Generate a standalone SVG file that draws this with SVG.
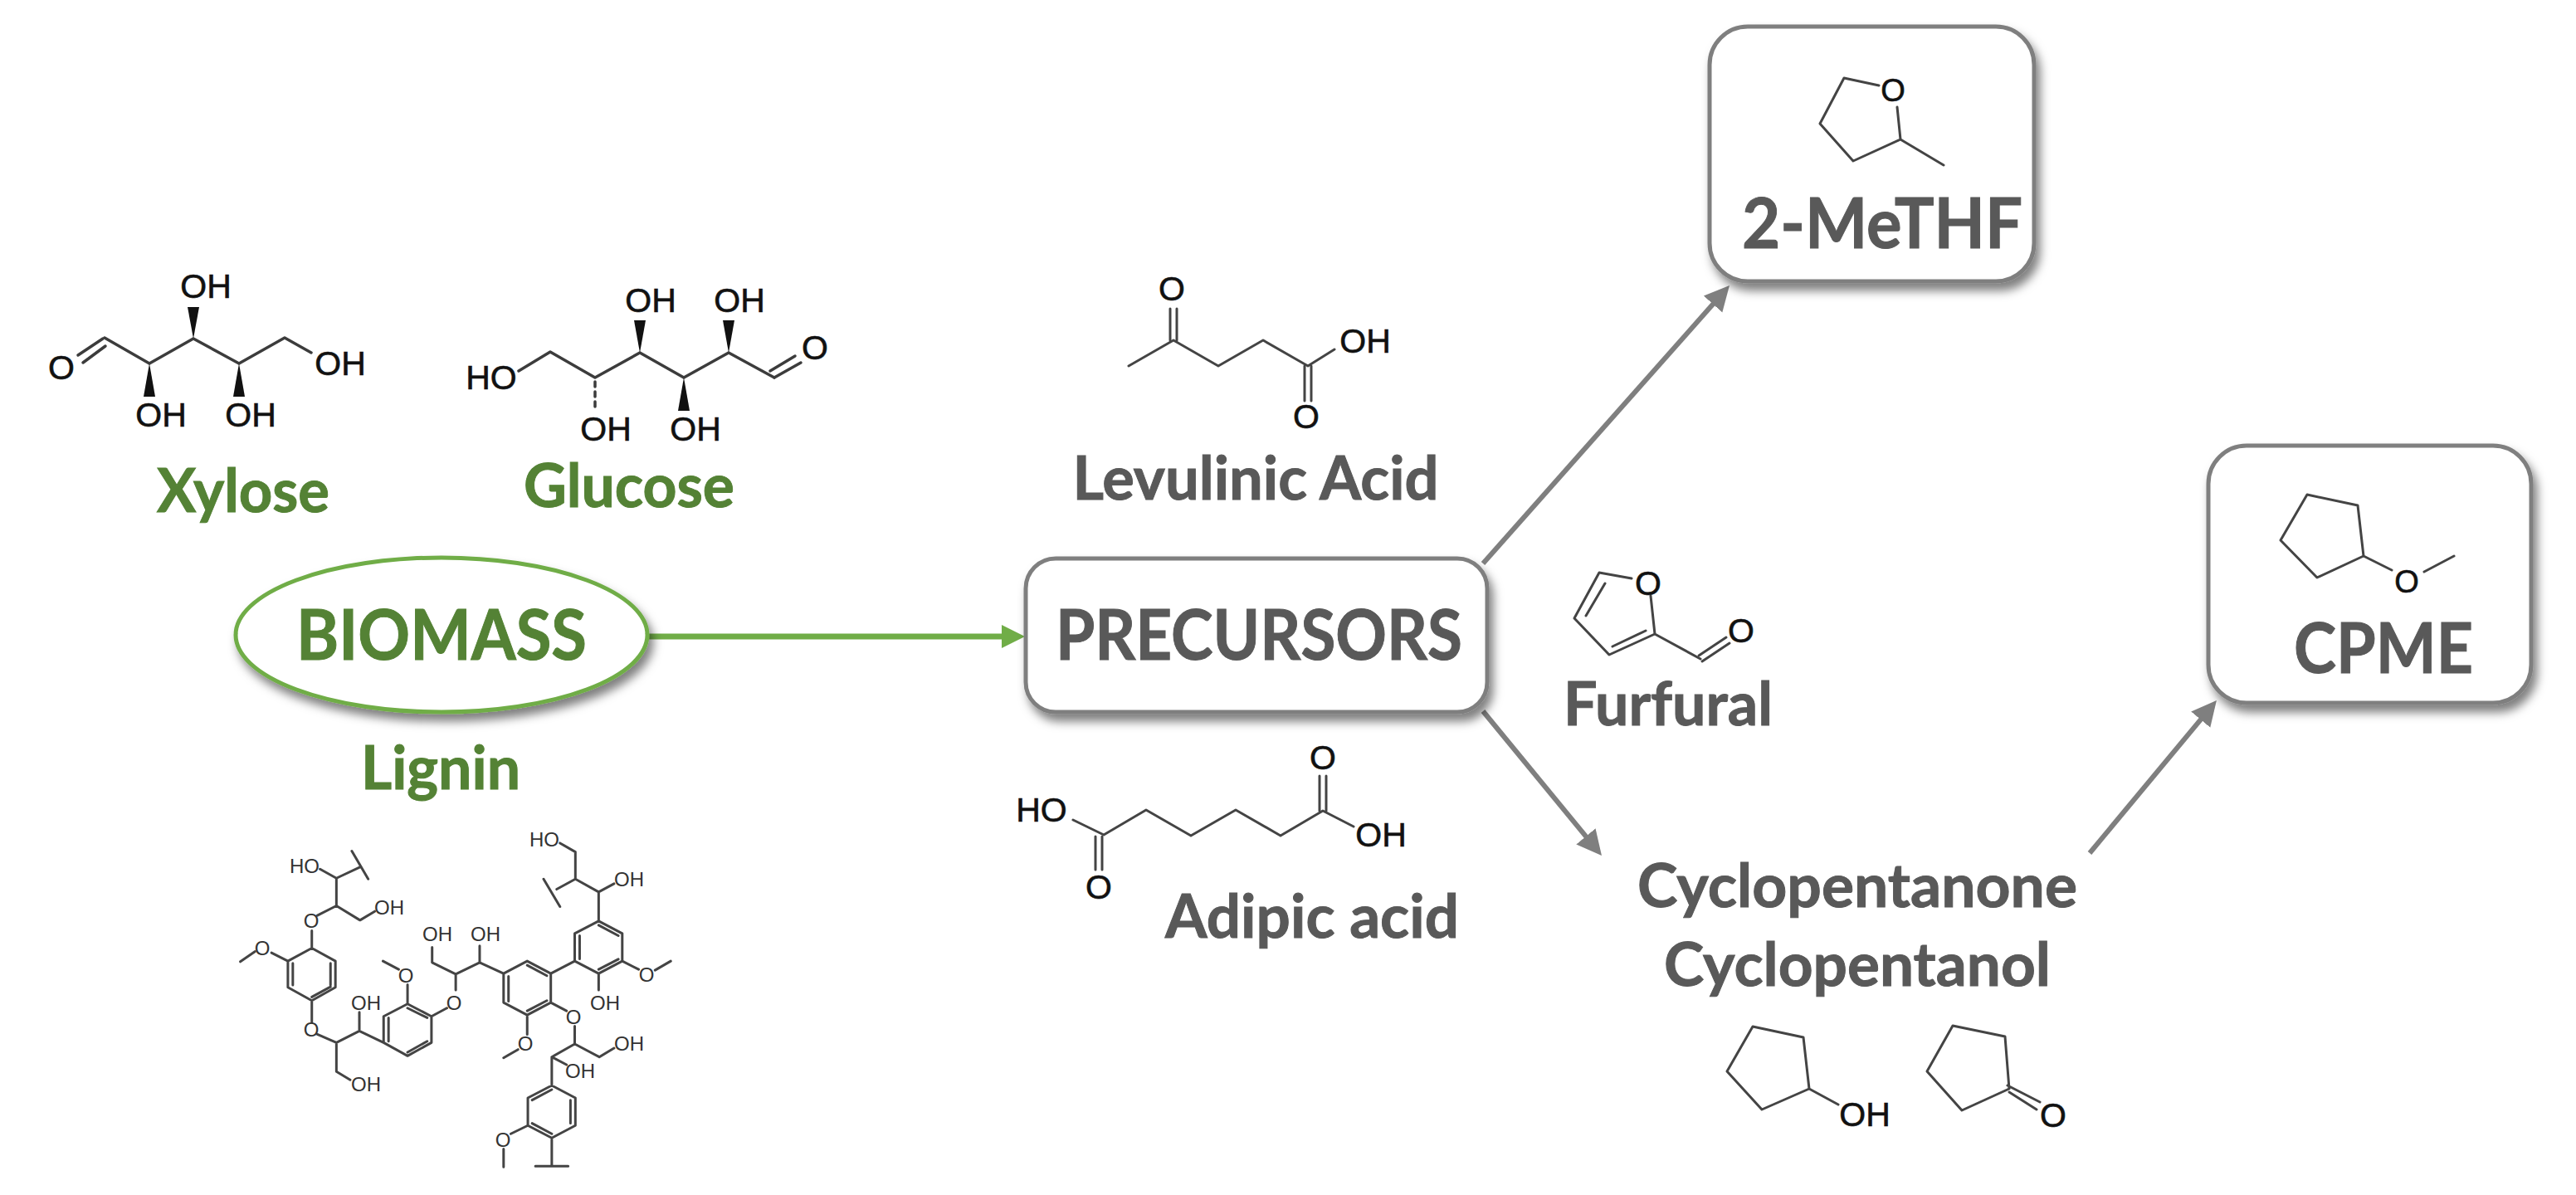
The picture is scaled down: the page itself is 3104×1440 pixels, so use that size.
<svg xmlns="http://www.w3.org/2000/svg" width="3104" height="1440" viewBox="0 0 3104 1440">
<style>
.b{fill:none;stroke:#3c3c3c;stroke-width:3.5;stroke-linejoin:round;stroke-linecap:round}
.t{fill:none;stroke:#444;stroke-width:3;stroke-linejoin:round;stroke-linecap:round}
.lg{fill:none;stroke:#444;stroke-width:3;stroke-linejoin:round;stroke-linecap:round;vector-effect:non-scaling-stroke}
.a{font-family:"Liberation Sans",Arial,sans-serif;font-size:41px;fill:#111;text-anchor:middle;stroke:#111;stroke-width:.6}
.a2{font-family:"Liberation Sans",Arial,sans-serif;font-size:24px;fill:#333;text-anchor:middle}
.g{font-family:Lato,"Liberation Sans",sans-serif;font-weight:700;fill:#548235;stroke:#548235;stroke-width:1;text-anchor:middle}
.k{font-family:Lato,"Liberation Sans",sans-serif;font-weight:700;fill:#595959;stroke:#595959;stroke-width:1;text-anchor:middle}
.s{font-size:73px}.h{font-size:84px}
.box{fill:#fff;stroke:#7f7f7f;stroke-width:5;filter:url(#sh)}
.con{fill:none;stroke:#7f7f7f;stroke-width:6}
.cong{fill:none;stroke:#70ad47;stroke-width:7}
</style>
<defs>
<filter id="sh" x="-20%" y="-20%" width="140%" height="140%"><feDropShadow dx="5" dy="9" stdDeviation="6" flood-color="#000" flood-opacity=".5"/></filter>
<marker id="ag" markerUnits="userSpaceOnUse" markerWidth="32" markerHeight="34" refX="2" refY="17" orient="auto"><path d="M0 2L30 17L0 32Z" fill="#7f7f7f"/></marker>
<marker id="agr" markerUnits="userSpaceOnUse" markerWidth="32" markerHeight="34" refX="2" refY="17" orient="auto"><path d="M0 3L28 17L0 31Z" fill="#70ad47"/></marker>
</defs>
<rect width="3104" height="1440" fill="#fff"/>

<g id="xylose">
<path class="b" d="M126 407L180 438L233 408L288 438L343 407L375 425"/>
<path class="b" d="M124 408L94 428M127 417L100 437"/>
<polygon points="180,438 173,478 187,478" fill="#111"/>
<polygon points="233,408 226,370 240,370" fill="#111"/>
<polygon points="288,438 281,478 295,478" fill="#111"/>
<text class="a" x="74" y="457">O</text><text class="a" x="248" y="359">OH</text><text class="a" x="410" y="452">OH</text><text class="a" x="194" y="514">OH</text><text class="a" x="302" y="514">OH</text>
<text class="g s" x="293" y="617" textLength="208" lengthAdjust="spacingAndGlyphs">Xylose</text>
</g>

<g id="glucose">
<path class="b" d="M625 447L663 424L717 455L771 425L824 455L878 425L933 455"/>
<path class="b" d="M933 455L965 437M928 447L958 429"/>
<path class="b" d="M717 460V466M717 472V478M717 484V490"/>
<polygon points="771,425 764,386 778,386" fill="#111"/>
<polygon points="878,425 871,386 885,386" fill="#111"/>
<polygon points="824,455 817,495 831,495" fill="#111"/>
<text class="a" x="592" y="469">HO</text><text class="a" x="982" y="433">O</text><text class="a" x="784" y="376">OH</text><text class="a" x="891" y="376">OH</text><text class="a" x="730" y="531">OH</text><text class="a" x="838" y="531">OH</text>
<text class="g s" x="758" y="611" textLength="254" lengthAdjust="spacingAndGlyphs">Glucose</text>
</g>

<g id="lignin">
<g transform="translate(260 960) scale(.395 .333)">
<path class="lg" d="M318 262L368 295L440 255M415 197L465 298M368 295V395L440 447L485 415M368 395L310 430M293 485V548M293 548L365 595V690L293 738L220 690V595ZM350 603V682M235 603V682M293 725L350 688M220 595L170 565M120 560L75 597M293 738V815M310 860L368 890L438 848V780M368 890V995L410 1025M438 848L512 890M512 890V795L585 750L658 795V890L585 938ZM527 800V885M585 765L645 800M585 925L645 885M585 750V680M558 625L510 595M658 795L705 765M732 700V642L660 600V545M732 642L805 600V540M805 600L878 640M878 640L950 595L1022 640V745L950 790L878 745ZM893 650V740M950 610L1010 648M950 775L1010 738M950 790V860M922 915L878 945M1022 745L1070 775M1095 830V895L1170 942L1215 910M1095 895L1025 942L1070 970M1025 942V1045M1025 1045L1097 1090V1190L1025 1235L952 1190V1090ZM1082 1098V1182M1025 1060L965 1098M1025 1220L965 1182M952 1190L900 1220M878 1275V1340M1025 1235V1337M975 1337H1075M1022 640L1095 595M1095 595V495L1168 450L1240 495V595L1168 640ZM1110 503V587M1168 465L1228 503M1168 625L1228 588M1240 595L1290 625M1340 628L1388 595M1168 640V700M1168 450V345L1215 315M1168 345L1097 298L1040 335M1000 298L1050 398M1097 298V200L1050 168"/>
</g>
<text class="a2" x="367" y="1052">HO</text><text class="a2" x="469" y="1102">OH</text><text class="a2" x="375" y="1118">O</text><text class="a2" x="316" y="1151">O</text><text class="a2" x="375" y="1249">O</text><text class="a2" x="441" y="1217">OH</text><text class="a2" x="441" y="1315">OH</text><text class="a2" x="489" y="1184">O</text><text class="a2" x="547" y="1217">O</text><text class="a2" x="527" y="1134">OH</text><text class="a2" x="585" y="1134">OH</text><text class="a2" x="633" y="1266">O</text><text class="a2" x="691" y="1234">O</text><text class="a2" x="758" y="1266">OH</text><text class="a2" x="699" y="1299">OH</text><text class="a2" x="606" y="1382">O</text><text class="a2" x="779" y="1183">O</text><text class="a2" x="729" y="1217">OH</text><text class="a2" x="758" y="1068">OH</text><text class="a2" x="656" y="1020">HO</text>
<text class="g s" x="531" y="951" textLength="192" lengthAdjust="spacingAndGlyphs">Lignin</text>
</g>

<g id="connectors">
<line class="cong" x1="782" y1="767" x2="1209" y2="767" marker-end="url(#agr)"/>
<line class="con" x1="1787" y1="679" x2="2065.4" y2="365" marker-end="url(#ag)"/>
<line class="con" x1="1787" y1="857" x2="1912.2" y2="1009.4" marker-end="url(#ag)"/>
<line class="con" x1="2518" y1="1028" x2="2653" y2="865.6" marker-end="url(#ag)"/>
</g>

<g id="biomass">
<ellipse cx="532" cy="765" rx="248" ry="93" fill="#fff" stroke="#70ad47" stroke-width="5" filter="url(#sh)"/>
<text class="g h" x="532" y="795" textLength="350" lengthAdjust="spacingAndGlyphs">BIOMASS</text>
</g>

<g id="precursors">
<rect class="box" x="1236" y="673" width="556" height="185" rx="36"/>
<text class="k h" x="1517" y="795" textLength="490" lengthAdjust="spacingAndGlyphs">PRECURSORS</text>
</g>

<g id="levulinic">
<path class="t" d="M1360 441L1414 410L1468 441L1522 410L1576 441L1608 421"/>
<path class="t" d="M1410 372V410M1418 372V410M1572 441V483M1580 441V483"/>
<text class="a" x="1412" y="362">O</text><text class="a" x="1645" y="425">OH</text><text class="a" x="1574" y="516">O</text>
<text class="k s" x="1513" y="602" textLength="441" lengthAdjust="spacingAndGlyphs">Levulinic Acid</text>
</g>

<g id="furfural">
<path class="t" d="M1966 697L1927 690L1897 745L1939 789L1994 764L1989 718M1911 742L1934 703M1943 779L1983 760M1994 764L2049 794"/>
<path class="t" d="M2047 790L2080 768M2051 797L2084 775"/>
<text class="a" x="1986" y="717">O</text><text class="a" x="2098" y="774">O</text>
<text class="k s" x="2010" y="874" textLength="252" lengthAdjust="spacingAndGlyphs">Furfural</text>
</g>

<g id="adipic">
<path class="t" d="M1293 988L1330 1006L1381 976L1435 1007L1489 976L1543 1007L1594 977L1631 996"/>
<path class="t" d="M1320 1008V1048M1328 1008V1048M1590 977V935M1598 977V935"/>
<text class="a" x="1255" y="990">HO</text><text class="a" x="1594" y="927">O</text><text class="a" x="1664" y="1020">OH</text><text class="a" x="1324" y="1083">O</text>
<text class="k s" x="1581" y="1130" textLength="354" lengthAdjust="spacingAndGlyphs">Adipic acid</text>
</g>

<g id="methf">
<rect class="box" x="2060" y="32" width="391" height="307" rx="46"/>
<path class="t" d="M2264 103L2222 94L2193 149L2233 194L2290 168L2286 129M2290 168L2342 199"/>
<text class="a" x="2281" y="122" style="font-size:38px">O</text>
<text class="k h" x="2268" y="299" textLength="338" lengthAdjust="spacingAndGlyphs">2-MeTHF</text>
</g>

<g id="cpme">
<rect class="box" x="2661" y="537" width="389" height="310" rx="46"/>
<path class="t" d="M2780 596L2841 609L2848 670L2792 696L2748 651ZM2848 670L2882 687M2921 689L2957 670"/>
<text class="a" x="2900" y="714" style="font-size:38px">O</text>
<text class="k h" x="2872" y="811" textLength="216" lengthAdjust="spacingAndGlyphs">CPME</text>
</g>

<g id="cyclopentanone-cyclopentanol">
<text class="k s" x="2238" y="1093" textLength="530" lengthAdjust="spacingAndGlyphs">Cyclopentanone</text>
<text class="k s" x="2238" y="1188" textLength="466" lengthAdjust="spacingAndGlyphs">Cyclopentanol</text>
<path class="t" d="M2112 1237L2173 1250L2180 1312L2123 1337L2081 1291ZM2180 1312L2215 1331"/>
<text class="a" x="2247" y="1357">OH</text>
<path class="t" d="M2353 1236L2416 1249L2421 1312L2364 1338L2322 1291ZM2419 1308L2458 1328M2421 1316L2454 1337"/>
<text class="a" x="2474" y="1358">O</text>
</g>
</svg>
